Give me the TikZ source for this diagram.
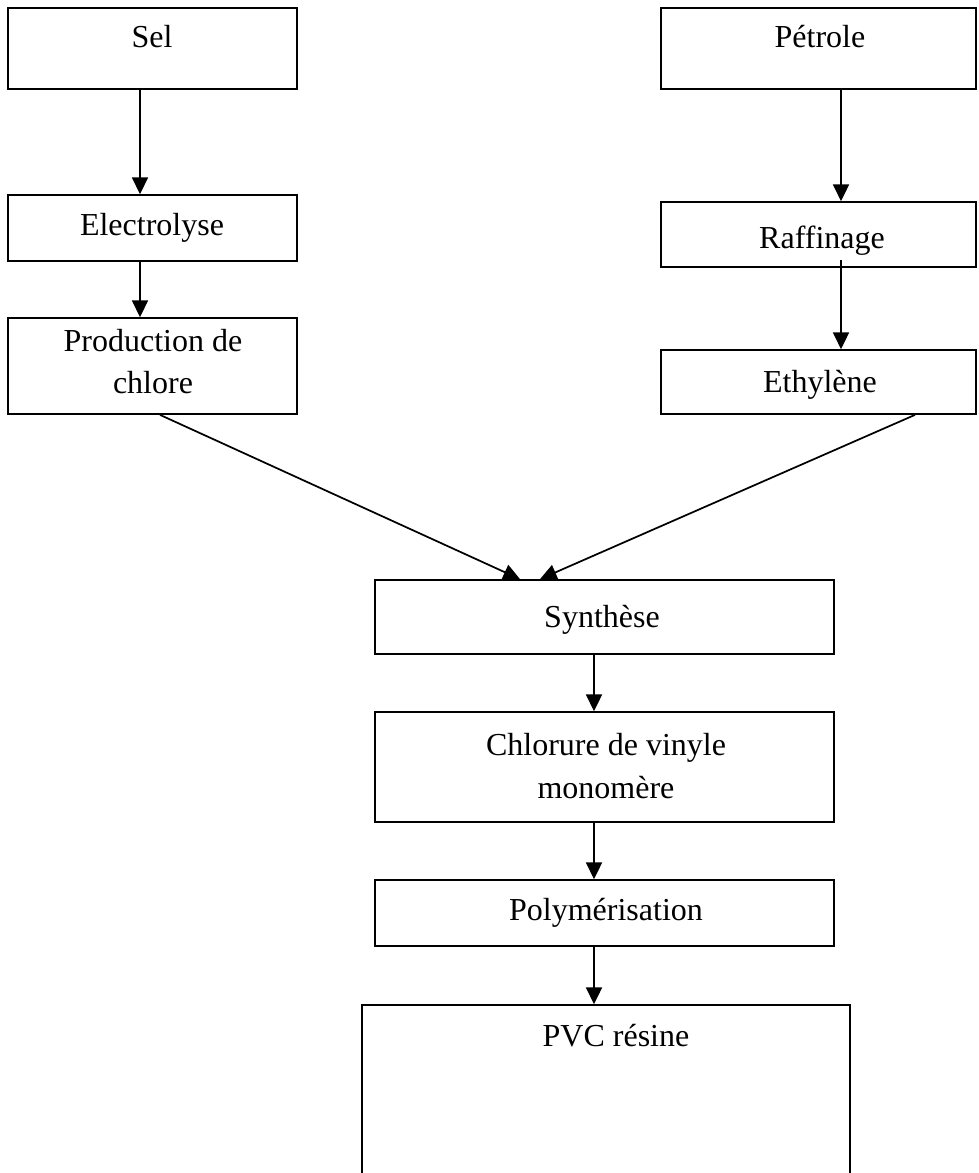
\documentclass[tikz,border=0pt]{standalone}
\usepackage{fontspec}
\setmainfont{Liberation Serif}
\usetikzlibrary{arrows.meta,fit}
\begin{document}
\begin{tikzpicture}[x=0.75pt,y=-0.75pt,
  box/.style={draw, line width=1.3pt, inner sep=0pt},
  lbl/.style={font=\fontsize{24pt}{28pt}\selectfont, anchor=base, inner sep=0pt},
  arr/.style={line width=1.3pt, -{Triangle[length=12.5pt,width=12pt]}}]
\useasboundingbox (0,0) rectangle (978,1173);
\clip (0,0) rectangle (978,1173);
% boxes
\node[box, fit={(8,8) (297,89)}] (sel) {};
\node[box, fit={(661,8) (976,89)}] (pet) {};
\node[box, fit={(8,195) (297,261)}] (elec) {};
\node[box, fit={(661,202) (976,267)}] (raff) {};
\node[box, fit={(8,318) (297,414)}] (prod) {};
\node[box, fit={(661,350) (976,414)}] (eth) {};
\node[box, fit={(375,580) (834,654)}] (syn) {};
\node[box, fit={(375,712) (834,822)}] (chl) {};
\node[box, fit={(375,880) (834,946)}] (poly) {};
\node[box, fit={(362,1005) (850,1200)}] (pvc) {};
% labels
\node[lbl] (tsel) at (152,48) {Sel};
\node[lbl] (tpet) at (820,48) {Pétrole};
\node[lbl] (telec) at (152,235) {Electrolyse};
\node[lbl] (traff) at (822,248) {Raffinage};
\node[lbl] (tprod1) at (153,351) {Production de};
\node[lbl] (tprod2) at (153,393) {chlore};
\node[lbl] (teth) at (820,392) {Ethylène};
\node[lbl] (tsyn) at (602,627) {Synthèse};
\node[lbl] (tchl1) at (606,755) {Chlorure de vinyle};
\node[lbl] (tchl2) at (606,798) {monomère};
\node[lbl] (tpoly) at (606,920) {Polymérisation};
\node[lbl] (tpvc) at (616,1046) {PVC résine};
% guide coordinates
\coordinate (xl) at (140,0);
\coordinate (xr) at (841,0);
\coordinate (xm) at (594,0);
\coordinate (xa) at (160,0);
\coordinate (xb) at (520,0);
\coordinate (xc) at (915,0);
\coordinate (xd) at (540,0);
\coordinate (rs) at (841,260);
% connectors
\draw[arr] (sel.south -| xl) -- (elec.north -| xl);
\draw[arr] (elec.south -| xl) -- (prod.north -| xl);
\draw[arr] (pet.south -| xr) -- (raff.north -| xr);
\draw[arr] (rs) -- (eth.north -| xr);
\draw[arr] (prod.south -| xa) -- (syn.north -| xb);
\draw[arr] (eth.south -| xc) -- (syn.north -| xd);
\draw[arr] (syn.south -| xm) -- (chl.north -| xm);
\draw[arr] (chl.south -| xm) -- (poly.north -| xm);
\draw[arr] (poly.south -| xm) -- (pvc.north -| xm);
\end{tikzpicture}
\end{document}
